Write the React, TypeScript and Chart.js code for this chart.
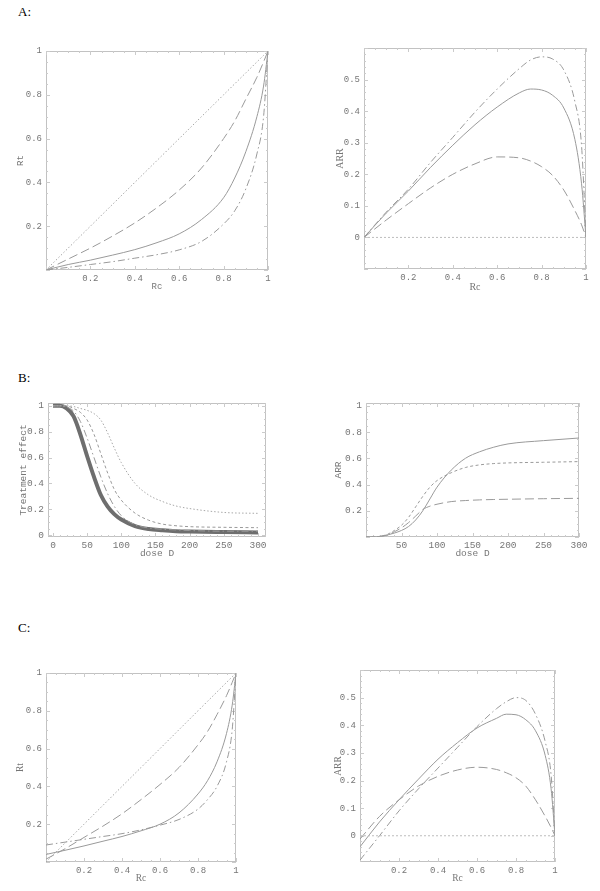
import React, { useEffect, useRef } from "react";
import { Chart, registerables } from "chart.js";
Chart.register(...registerables);

// ---------- Panel A (left): Rt vs Rc ----------
const rcA = [0, 0.1, 0.2, 0.3, 0.4, 0.5, 0.6, 0.7, 0.8, 0.85, 0.9, 0.95, 0.98, 1];
const rtA_dotted = [0, 0.1, 0.2, 0.3, 0.4, 0.5, 0.6, 0.7, 0.8, 0.85, 0.9, 0.95, 0.98, 1];
const rtA_longdash = [0, 0.05, 0.1, 0.155, 0.215, 0.285, 0.365, 0.465, 0.6, 0.68, 0.78, 0.88, 0.95, 1];
const rtA_solid = [0, 0.025, 0.045, 0.068, 0.093, 0.125, 0.165, 0.23, 0.33, 0.42, 0.54, 0.7, 0.84, 1];
const rtA_dashdot = [0, 0.012, 0.025, 0.038, 0.054, 0.07, 0.092, 0.13, 0.21, 0.27, 0.37, 0.53, 0.7, 1];

// ---------- Panel A (right): ARR vs Rc ----------
const rcA2 = [0, 0.1, 0.2, 0.3, 0.4, 0.5, 0.6, 0.7, 0.75, 0.8, 0.85, 0.9, 0.95, 0.98, 1];
const arrA_dashdot = [0, 0.08, 0.153, 0.238, 0.317, 0.397, 0.47, 0.535, 0.562, 0.572, 0.565, 0.53, 0.43, 0.29, 0];
const arrA_solid = [0, 0.077, 0.147, 0.222, 0.292, 0.357, 0.413, 0.458, 0.47, 0.467, 0.45, 0.41, 0.31, 0.17, 0];
const arrA_longdash = [0, 0.055, 0.107, 0.157, 0.2, 0.233, 0.255, 0.252, 0.242, 0.224, 0.196, 0.15, 0.085, 0.04, 0];
const zeroX = [0, 1];
const zeroY = [0, 0];

// ---------- Panel B (left): Treatment effect vs dose ----------
const dose = [0, 10, 20, 30, 40, 50, 60, 70, 80, 90, 100, 120, 140, 160, 180, 200, 250, 300];
const teB_thick = [1, 1, 0.98, 0.92, 0.78, 0.61, 0.45, 0.31, 0.22, 0.16, 0.12, 0.07, 0.047, 0.037, 0.03, 0.027, 0.023, 0.02];
const teB_dashdot = [1, 1, 0.99, 0.96, 0.88, 0.75, 0.6, 0.45, 0.32, 0.22, 0.15, 0.08, 0.055, 0.045, 0.04, 0.035, 0.03, 0.03];
const teB_short = [1, 1, 1, 0.98, 0.95, 0.89, 0.78, 0.63, 0.48, 0.35, 0.27, 0.17, 0.115, 0.085, 0.072, 0.065, 0.06, 0.057];
const teB_dotted = [1, 1, 1, 0.995, 0.98, 0.965, 0.94, 0.89, 0.79, 0.67, 0.56, 0.4, 0.31, 0.26, 0.225, 0.205, 0.175, 0.168];

// ---------- Panel B (right): ARR vs dose ----------
const arrB_solid = [0, 0, 0.005, 0.015, 0.03, 0.05, 0.08, 0.13, 0.2, 0.29, 0.38, 0.51, 0.6, 0.65, 0.685, 0.71, 0.735, 0.755];
const arrB_short = [0, 0, 0.005, 0.02, 0.05, 0.09, 0.15, 0.23, 0.31, 0.38, 0.43, 0.49, 0.53, 0.55, 0.56, 0.565, 0.57, 0.575];
const arrB_long = [0, 0, 0.005, 0.015, 0.04, 0.07, 0.11, 0.16, 0.21, 0.235, 0.25, 0.27, 0.278, 0.283, 0.286, 0.288, 0.292, 0.295];

// ---------- Panel C (left): Rt vs Rc ----------
const rcC = [0, 0.1, 0.2, 0.3, 0.4, 0.5, 0.6, 0.7, 0.8, 0.85, 0.9, 0.95, 0.98, 1];
const rtC_dotted = [0, 0.1, 0.2, 0.3, 0.4, 0.5, 0.6, 0.7, 0.8, 0.85, 0.9, 0.95, 0.98, 1];
const rtC_longdash = [0.015, 0.07, 0.13, 0.19, 0.255, 0.33, 0.41, 0.5, 0.62, 0.69, 0.78, 0.88, 0.95, 1];
const rtC_solid = [0.04, 0.062, 0.085, 0.11, 0.135, 0.165, 0.2, 0.26, 0.36, 0.43, 0.53, 0.68, 0.83, 1];
const rtC_dashdot = [0.09, 0.105, 0.12, 0.135, 0.15, 0.17, 0.195, 0.225, 0.28, 0.33, 0.4, 0.53, 0.7, 1];

// ---------- Panel C (right): ARR vs Rc ----------
const rcC2 = [0, 0.1, 0.2, 0.3, 0.4, 0.5, 0.6, 0.7, 0.75, 0.8, 0.85, 0.9, 0.95, 0.98, 1];
const arrC_dashdot = [-0.088, 0.0, 0.09, 0.17, 0.245, 0.32, 0.395, 0.46, 0.485, 0.5, 0.49, 0.44, 0.34, 0.22, 0];
const arrC_solid = [-0.04, 0.05, 0.13, 0.205, 0.277, 0.337, 0.39, 0.425, 0.44, 0.438, 0.42, 0.38, 0.29, 0.17, 0];
const arrC_longdash = [-0.012, 0.07, 0.13, 0.18, 0.215, 0.238, 0.248, 0.24, 0.228, 0.21, 0.18, 0.13, 0.07, 0.03, 0];

// ---------- Tick labels ----------
const ticksRc = [0.2, 0.4, 0.6, 0.8, 1];
const ticksRt = [0.2, 0.4, 0.6, 0.8, 1];
const ticksArr = [0, 0.1, 0.2, 0.3, 0.4, 0.5];
const ticksDoseL = [0, 50, 100, 150, 200, 250, 300];
const ticksDoseR = [50, 100, 150, 200, 250, 300];
const ticksTE = [0, 0.2, 0.4, 0.6, 0.8, 1];
const ticksArrB = [0.2, 0.4, 0.6, 0.8, 1];

const GRAY = "#9a9a9a";
const STYLES: Record<string, any> = {
  solid: { borderColor: GRAY, borderWidth: 1, borderDash: [] },
  longdash: { borderColor: GRAY, borderWidth: 1, borderDash: [9, 4] },
  dashdot: { borderColor: GRAY, borderWidth: 1, borderDash: [7, 3, 1.5, 3] },
  dotted: { borderColor: "#a8a8a8", borderWidth: 1, borderDash: [1.5, 2] },
  short: { borderColor: GRAY, borderWidth: 1, borderDash: [3, 2.5] },
  thick: { borderColor: "#6e6e6e", borderWidth: 4, borderDash: [] },
  zero: { borderColor: "#bcbcbc", borderWidth: 1, borderDash: [2, 2] },
};

function series(xs: number[], ys: number[], style: string) {
  return {
    data: xs.map((x, i) => ({ x, y: ys[i] })),
    pointRadius: 0,
    fill: false,
    cubicInterpolationMode: "monotone",
    ...STYLES[style],
  };
}

const framePlugin = {
  id: "mmaFrame",
  beforeDatasetsDraw(chart: any, _args: any, opts: any) {
    const { ctx, chartArea } = chart;
    const { left, right, top, bottom } = chartArea;
    const xs = chart.scales.x;
    const ys = chart.scales.y;
    ctx.save();
    ctx.strokeStyle = "#c2c2c2";
    ctx.lineWidth = 1;
    ctx.setLineDash([]);
    ctx.strokeRect(Math.round(left) + 0.5, Math.round(top) + 0.5, Math.round(right - left) - 1, Math.round(bottom - top) - 1);
    const line = (x1: number, y1: number, x2: number, y2: number) => {
      ctx.beginPath();
      ctx.moveTo(x1, y1);
      ctx.lineTo(x2, y2);
      ctx.stroke();
    };
    const near = (v: number, step: number) => Math.abs(v / step - Math.round(v / step)) < 1e-6;
    const steps = (min: number, max: number, step: number) => {
      const out: number[] = [];
      for (let k = Math.ceil(min / step - 1e-9); k * step <= max + 1e-9; k++) out.push(k * step);
      return out;
    };
    ctx.strokeStyle = "#cbcbcb";
    for (const v of steps(xs.min, xs.max, opts.xMinor)) {
      const len = near(v, opts.xMajor) ? 4 : 2;
      const px = Math.round(xs.getPixelForValue(v)) + 0.5;
      line(px, bottom, px, bottom - len);
      line(px, top, px, top + len);
    }
    for (const v of steps(ys.min, ys.max, opts.yMinor)) {
      const len = near(v, opts.yMajor) ? 4 : 2;
      const py = Math.round(ys.getPixelForValue(v)) + 0.5;
      line(left, py, left + len, py);
      line(right, py, right - len, py);
    }
    ctx.restore();
  },
};

type Spec = {
  left: number; top: number; width: number; height: number;
  yAxisW: number; xAxisH: number; padTop: number; padRight: number;
  xMin: number; xMax: number; yMin: number; yMax: number;
  xTicks: number[]; yTicks: number[];
  xMajor: number; xMinor: number; yMajor: number; yMinor: number;
  xTitle: string; yTitle: string; xTitleOff: number; yTitleOff: number;
  titleFamily: string; titleSize: number; tickSize: number;
  datasets: any[];
};

function Panel({ s }: { s: Spec }) {
  const ref = useRef<HTMLCanvasElement | null>(null);
  useEffect(() => {
    if (!ref.current) return;
    const tickFont = { family: "'Liberation Mono', 'DejaVu Sans Mono', monospace", size: s.tickSize };
    const titleFont = { family: s.titleFamily, size: s.titleSize, lineHeight: 1.2 };
    const half = (s.titleSize * 1.2) / 2;
    const chart = new Chart(ref.current, {
      type: "line",
      data: { datasets: s.datasets },
      plugins: [framePlugin],
      options: {
        responsive: false,
        animation: false,
        devicePixelRatio: 1,
        layout: { padding: { top: s.padTop, right: s.padRight, left: 0, bottom: 0 } },
        plugins: {
          legend: { display: false },
          tooltip: { enabled: false },
          mmaFrame: { xMajor: s.xMajor, xMinor: s.xMinor, yMajor: s.yMajor, yMinor: s.yMinor },
        } as any,
        scales: {
          x: {
            type: "linear",
            min: s.xMin,
            max: s.xMax,
            grid: { display: false, drawTicks: false },
            border: { display: false },
            afterBuildTicks: (sc: any) => { sc.ticks = s.xTicks.map((v) => ({ value: v })); },
            afterFit: (sc: any) => { sc.height = s.xAxisH; },
            ticks: { font: tickFont, color: "#767676", padding: 3, maxRotation: 0, autoSkip: false, callback: (v: any) => String(v) },
            title: { display: true, text: s.xTitle, color: "#767676", font: titleFont, padding: { top: 0, bottom: s.xTitleOff - half } },
          },
          y: {
            type: "linear",
            min: s.yMin,
            max: s.yMax,
            grid: { display: false, drawTicks: false },
            border: { display: false },
            afterBuildTicks: (sc: any) => { sc.ticks = s.yTicks.map((v) => ({ value: v })); },
            afterFit: (sc: any) => { sc.width = s.yAxisW; },
            ticks: { font: tickFont, color: "#767676", padding: 4, autoSkip: false, callback: (v: any) => String(v) },
            title: { display: true, text: s.yTitle, color: "#767676", font: titleFont, padding: { top: s.yTitleOff - half, bottom: 0 } },
          },
        },
      } as any,
    });
    return () => chart.destroy();
  }, []);
  return (
    <canvas
      ref={ref}
      width={s.width}
      height={s.height}
      style={{ position: "absolute", left: s.left, top: s.top, width: s.width, height: s.height }}
    />
  );
}

const MONO = "'Liberation Mono', 'DejaVu Sans Mono', monospace";
const SERIF = "'Liberation Serif', 'DejaVu Serif', serif";

const specs: Spec[] = [
  {
    left: 0, top: 30, width: 290, height: 275, yAxisW: 46, xAxisH: 35, padTop: 21, padRight: 22,
    xMin: 0, xMax: 1, yMin: 0, yMax: 1, xTicks: ticksRc, yTicks: ticksRt,
    xMajor: 0.2, xMinor: 0.05, yMajor: 0.2, yMinor: 0.05,
    xTitle: "Rc", yTitle: "Rt", xTitleOff: 18, yTitleOff: 21, titleFamily: MONO, titleSize: 9, tickSize: 9,
    datasets: [
      series(rcA, rtA_dotted, "dotted"),
      series(rcA, rtA_longdash, "longdash"),
      series(rcA, rtA_solid, "solid"),
      series(rcA, rtA_dashdot, "dashdot"),
    ],
  },
  {
    left: 300, top: 30, width: 300, height: 275, yAxisW: 64, xAxisH: 36, padTop: 18, padRight: 14,
    xMin: 0, xMax: 1, yMin: -0.1, yMax: 0.6, xTicks: ticksRc, yTicks: ticksArr,
    xMajor: 0.2, xMinor: 0.05, yMajor: 0.1, yMinor: 0.02,
    xTitle: "Rc", yTitle: "ARR", xTitleOff: 18, yTitleOff: 40, titleFamily: SERIF, titleSize: 10, tickSize: 9,
    datasets: [
      series(zeroX, zeroY, "zero"),
      series(rcA2, arrA_dashdot, "dashdot"),
      series(rcA2, arrA_solid, "solid"),
      series(rcA2, arrA_longdash, "longdash"),
    ],
  },
  {
    left: 0, top: 380, width: 290, height: 185, yAxisW: 48, xAxisH: 28, padTop: 23, padRight: 24,
    xMin: -7.3, xMax: 311.7, yMin: -0.015, yMax: 1.022, xTicks: ticksDoseL, yTicks: ticksTE,
    xMajor: 50, xMinor: 10, yMajor: 0.2, yMinor: 0.05,
    xTitle: "dose D", yTitle: "Treatment effect", xTitleOff: 12, yTitleOff: 23, titleFamily: MONO, titleSize: 9.5, tickSize: 9.5,
    datasets: [
      series(dose, teB_dotted, "dotted"),
      series(dose, teB_short, "short"),
      series(dose, teB_dashdot, "dashdot"),
      series(dose, teB_thick, "thick"),
    ],
  },
  {
    left: 300, top: 380, width: 300, height: 185, yAxisW: 66, xAxisH: 28, padTop: 23, padRight: 21,
    xMin: 0, xMax: 300, yMin: 0, yMax: 1.022, xTicks: ticksDoseR, yTicks: ticksArrB,
    xMajor: 50, xMinor: 10, yMajor: 0.2, yMinor: 0.05,
    xTitle: "dose D", yTitle: "ARR", xTitleOff: 12, yTitleOff: 38, titleFamily: MONO, titleSize: 9.5, tickSize: 9.5,
    datasets: [
      series(dose, arrB_solid, "solid"),
      series(dose, arrB_short, "short"),
      series(dose, arrB_long, "longdash"),
    ],
  },
  {
    left: 0, top: 650, width: 290, height: 241, yAxisW: 46, xAxisH: 29, padTop: 23, padRight: 54,
    xMin: 0, xMax: 1, yMin: 0, yMax: 1, xTicks: ticksRc, yTicks: ticksRt,
    xMajor: 0.2, xMinor: 0.05, yMajor: 0.2, yMinor: 0.05,
    xTitle: "Rc", yTitle: "Rt", xTitleOff: 13, yTitleOff: 20, titleFamily: SERIF, titleSize: 9.5, tickSize: 9,
    datasets: [
      series(rcC, rtC_dotted, "dotted"),
      series(rcC, rtC_longdash, "longdash"),
      series(rcC, rtC_solid, "solid"),
      series(rcC, rtC_dashdot, "dashdot"),
    ],
  },
  {
    left: 300, top: 650, width: 300, height: 241, yAxisW: 60, xAxisH: 29, padTop: 20, padRight: 45,
    xMin: 0, xMax: 1, yMin: -0.095, yMax: 0.6, xTicks: ticksRc, yTicks: ticksArr,
    xMajor: 0.2, xMinor: 0.05, yMajor: 0.1, yMinor: 0.02,
    xTitle: "Rc", yTitle: "ARR", xTitleOff: 13, yTitleOff: 38, titleFamily: SERIF, titleSize: 9.5, tickSize: 9,
    datasets: [
      series(zeroX, zeroY, "zero"),
      series(rcC2, arrC_dashdot, "dashdot"),
      series(rcC2, arrC_solid, "solid"),
      series(rcC2, arrC_longdash, "longdash"),
    ],
  },
];

const panelLabels = [
  { text: "A:", top: 4 },
  { text: "B:", top: 370 },
  { text: "C:", top: 620 },
];

export default function App() {
  return (
    <div style={{ position: "absolute", left: 0, top: 0, width: 600, height: 891, background: "#fff", overflow: "hidden" }}>
      {panelLabels.map((p) => (
        <div
          key={p.text}
          style={{ position: "absolute", left: 18, top: p.top, fontFamily: "'Liberation Serif', serif", fontSize: 13, color: "#000", lineHeight: "16px" }}
        >
          {p.text}
        </div>
      ))}
      {specs.map((s, i) => (
        <Panel key={i} s={s} />
      ))}
    </div>
  );
}
